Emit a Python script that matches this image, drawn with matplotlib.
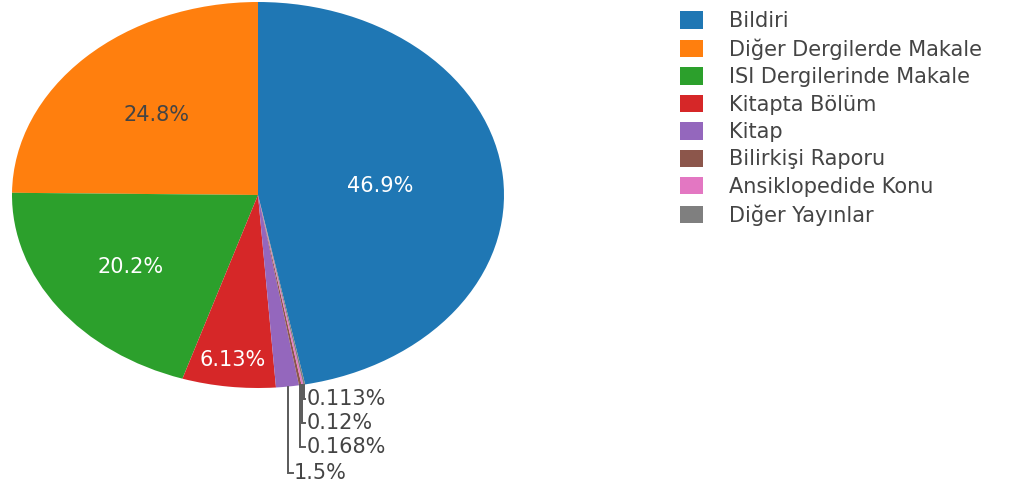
import matplotlib
matplotlib.use("Agg")
import matplotlib.pyplot as plt
from matplotlib.patches import Patch
from matplotlib.transforms import Bbox
import numpy as np

plt.rcParams["font.family"] = ["DejaVu Sans"]

labels = ["Bildiri", "Diğer Dergilerde Makale", "ISI Dergilerinde Makale",
          "Kitapta Bölüm", "Kitap", "Bilirkişi Raporu", "Ansiklopedide Konu",
          "Diğer Yayınlar"]
values = [46.9, 24.8, 20.2, 6.13, 1.5, 0.168, 0.12, 0.113]
colors = ["#1f77b4", "#ff7f0e", "#2ca02c", "#d62728", "#9467bd",
          "#8c564b", "#e377c2", "#7f7f7f"]

# styling of the inside labels (radial fraction, colour)
inside_r = [0.50, 0.585, 0.64, 0.86]
inside_c = ["white", "#444444", "white", "white"]
# outside label levels (data units) for small slices
outside_y = {4: -1.440, 5: -1.306, 6: -1.181, 7: -1.057}

W, H = 1009, 488
fig = plt.figure(figsize=(W / 100, H / 100), dpi=100)
fig.patch.set_facecolor("white")
ax = fig.add_axes([12 / W, 100 / H, 492 / W, 386 / H])

total = sum(values)
start = 90 - 360 * values[0] / total
wedges, _ = ax.pie(values, colors=colors, startangle=start, counterclock=True,
                   radius=1, center=(0, 0), wedgeprops=dict(linewidth=0))
ax.set_aspect("auto")
ax.set_xlim(-1, 1)
ax.set_ylim(-1, 1)
ax.axis("off")

FS = 15
for i, (w, v) in enumerate(zip(wedges, values)):
    pct = v / total * 100
    txt = f"{pct:.3g}%"
    mid = np.deg2rad((w.theta1 + w.theta2) / 2)
    if i < len(inside_r):
        r = inside_r[i]
        ax.text(r * np.cos(mid), r * np.sin(mid), txt, ha="center", va="center",
                fontsize=FS, color=inside_c[i])
    else:
        x0, y0 = np.cos(mid), np.sin(mid)
        ly = outside_y[i]
        if i == 4:
            lx = 0.142
            tx = 0.146
        else:
            lx = 0.192
            tx = 0.196
        ax.plot([x0, x0, lx], [y0, ly, ly], color="#5a5a5a", lw=1.4,
                clip_on=False, solid_joinstyle="miter")
        ax.text(tx, ly, txt, ha="left", va="center", fontsize=FS,
                color="#444444", clip_on=False)

handles = [Patch(facecolor=c, edgecolor="none") for c in colors]
leg = fig.legend(handles, labels, loc="upper left",
                 bbox_to_anchor=(680 / W, 1 - 11 / H), frameon=False,
                 fontsize=FS, handlelength=1.10, handleheight=0.91,
                 handletextpad=1.25, labelspacing=0.355, borderpad=0,
                 borderaxespad=0)
clip = Bbox.from_extents(0, 0, 983, H)
for t in leg.get_texts():
    t.set_color("#444444")
    t.set_clip_box(clip)
    t.set_clip_on(True)

fig.savefig("out.png", dpi=100, facecolor="white")
